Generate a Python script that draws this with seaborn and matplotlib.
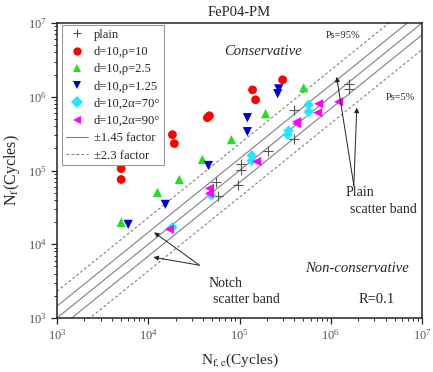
import matplotlib
matplotlib.use("Agg")
import matplotlib.pyplot as plt
from matplotlib.lines import Line2D
import seaborn as sns
import numpy as np
import pandas as pd

# ---- data ----
plain_x = [55900, 58700, 97500, 105000, 105000, 203000, 392000, 392000, 1580000, 1580000]
plain_y = [68900, 44600, 62700, 124000, 103000, 186000, 667000, 271000, 1500000, 1280000]

rho10_x = [5050, 5050, 18400, 19300, 44500, 46800, 139000, 150000, 297000]
rho10_y = [106000, 75500, 306000, 232000, 520000, 553000, 1240000, 910000, 1700000]

rho25_x = [5050, 12600, 21900, 39200, 81600, 193000, 505000]
rho25_y = [19800, 50500, 75500, 141000, 262000, 589000, 1320000]

rho125_x = [6030, 15400, 45600, 122000, 122000, 262000, 269000]
rho125_y = [18600, 34700, 117000, 520000, 336000, 1100000, 1280000]

a70_x = [18400, 49200, 136000, 136000, 345000, 336000, 573000, 573000]
a70_y = [17000, 45900, 160000, 136000, 347000, 306000, 780000, 627000]

a90_x = [17000, 46800, 46800, 154000, 423000, 423000, 738000, 719000, 1220000]
a90_y = [16000, 57100, 48900, 132000, 432000, 459000, 804000, 608000, 855000]

series_labels = ["plain", "d=10,\u03c1=10", "d=10,\u03c1=2.5", "d=10,\u03c1=1.25",
                 "d=10,2\u03b1=70\u00b0", "d=10,2\u03b1=90\u00b0"]
band_factors = [1.45, 2.3]
axis_range = [1e3, 1e7]

# arrows (tail, head) in data coords
plain_arrow_tail = (1.79e6, 6.27e4)
plain_arrow_heads = [(1.16e6, 1.86e6), (1.93e6, 7.1e5)]
notch_arrow_tail = (3.63e4, 5.2e3)
notch_arrow_heads = [(1.16e4, 1.45e4), (1.14e4, 6.67e3)]

# ---- style ----
sns.set_style("ticks")
plt.rcParams["font.family"] = ["Liberation Serif", "DejaVu Serif"]
plt.rcParams["mathtext.fontset"] = "stix"

fig = plt.figure(figsize=(4.33, 3.72), dpi=100)
ax = fig.add_axes([57/433, 54/372, 365/433, 295/372])

line_col = "#808080"
xx = np.array(axis_range)
ax.plot(xx, xx, color=line_col, lw=0.8, zorder=1)
for f in band_factors:
    ls = "-" if f == band_factors[0] else (0, (2.5, 2))
    for k in (f, 1.0 / f):
        ax.plot(xx, xx * k, color=line_col, lw=0.8, ls=ls, zorder=1)

specs = [
    (plain_x, plain_y, "+", "#555555", 42),
    (rho10_x, rho10_y, "o", "#ff0000", 40),
    (rho25_x, rho25_y, "^", "#22dd22", 44),
    (rho125_x, rho125_y, "v", "#0000cc", 44),
    (a70_x, a70_y, "D", "#22e8ff", 28),
    (a90_x, a90_y, "<", "#ff00ff", 44),
]
for (xs, ys, m, c, s), lab in zip(specs, series_labels):
    df = pd.DataFrame({"x": xs, "y": ys})
    if m == "+":
        sns.scatterplot(data=df, x="x", y="y", marker=m, color=c, s=s,
                        linewidth=0.8, ax=ax, zorder=3, legend=False)
    else:
        sns.scatterplot(data=df, x="x", y="y", marker=m, color=c, s=s,
                        edgecolor="none", ax=ax, zorder=3, legend=False)

ax.set_xscale("log")
ax.set_yscale("log")
ax.set_xlim(axis_range)
ax.set_ylim(axis_range)

ax.set_xlabel(r"N$_{\mathrm{f,e}}$(Cycles)", fontsize=11, labelpad=6)
ax.set_ylabel(r"N$_{\mathrm{f}}$(Cycles)", fontsize=11.5, labelpad=4)
ax.set_title("FeP04-PM", fontsize=10.5, pad=5)

ax.tick_params(which="major", direction="out", length=4, width=0.9,
               labelsize=9, labelcolor="#555555", top=False, right=False)
ax.tick_params(which="minor", direction="out", length=2, width=0.7,
               top=False, right=False)
for sp in ax.spines.values():
    sp.set_visible(True)
    sp.set_color("#222222")
    sp.set_linewidth(1.1)

# legend
handles = []
for (xs, ys, m, c, s), lab in zip(specs, series_labels):
    if m == "+":
        handles.append(Line2D([], [], ls="none", marker=m, color=c, markersize=6,
                              markeredgewidth=0.8, label=lab))
    else:
        handles.append(Line2D([], [], ls="none", marker=m, color=c, markersize=6,
                              markeredgewidth=0, label=lab))
handles.append(Line2D([], [], color=line_col, lw=0.8, label="\u00b11.45 factor"))
handles.append(Line2D([], [], color=line_col, lw=0.8, ls=(0, (2.5, 2)),
                      label="\u00b12.3 factor"))
leg = ax.legend(handles=handles, loc="upper left", bbox_to_anchor=(0.0137, 0.993),
                borderaxespad=0, fancybox=False, edgecolor="#999999",
                fontsize=9, handlelength=1.8, handletextpad=0.45,
                labelspacing=0.42, borderpad=0.3, framealpha=1)
leg.get_frame().set_linewidth(0.8)

# annotations
ax.text(0.564, 0.905, "Conservative", transform=ax.transAxes, fontsize=10.5,
        style="italic", ha="center", va="center")
ax.text(0.822, 0.169, "Non-conservative", transform=ax.transAxes, fontsize=10.5,
        style="italic", ha="center", va="center")
ax.text(0.877, 0.064, "R=0.1", transform=ax.transAxes, fontsize=10.5,
        ha="center", va="center")
ax.text(0.784, 0.956, "Ps=95%", transform=ax.transAxes, fontsize=7.5,
        ha="center", va="center")
ax.text(0.940, 0.749, "Ps=5%", transform=ax.transAxes, fontsize=7.5,
        ha="center", va="center")
ax.text(0.830, 0.424, "Plain", transform=ax.transAxes, fontsize=10,
        ha="center", va="center")
ax.text(0.893, 0.369, "scatter band", transform=ax.transAxes, fontsize=10,
        ha="center", va="center")
ax.text(0.463, 0.118, "Notch", transform=ax.transAxes, fontsize=10,
        ha="center", va="center")
ax.text(0.520, 0.064, "scatter band", transform=ax.transAxes, fontsize=10,
        ha="center", va="center")

aprops = dict(arrowstyle="-|>", color="#222222", lw=0.7, mutation_scale=7,
              shrinkA=0, shrinkB=0)
for h in plain_arrow_heads:
    ax.annotate("", xy=h, xytext=plain_arrow_tail, arrowprops=aprops, zorder=4)
for h in notch_arrow_heads:
    ax.annotate("", xy=h, xytext=notch_arrow_tail, arrowprops=aprops, zorder=4)

fig.savefig("out.png", dpi=100)
